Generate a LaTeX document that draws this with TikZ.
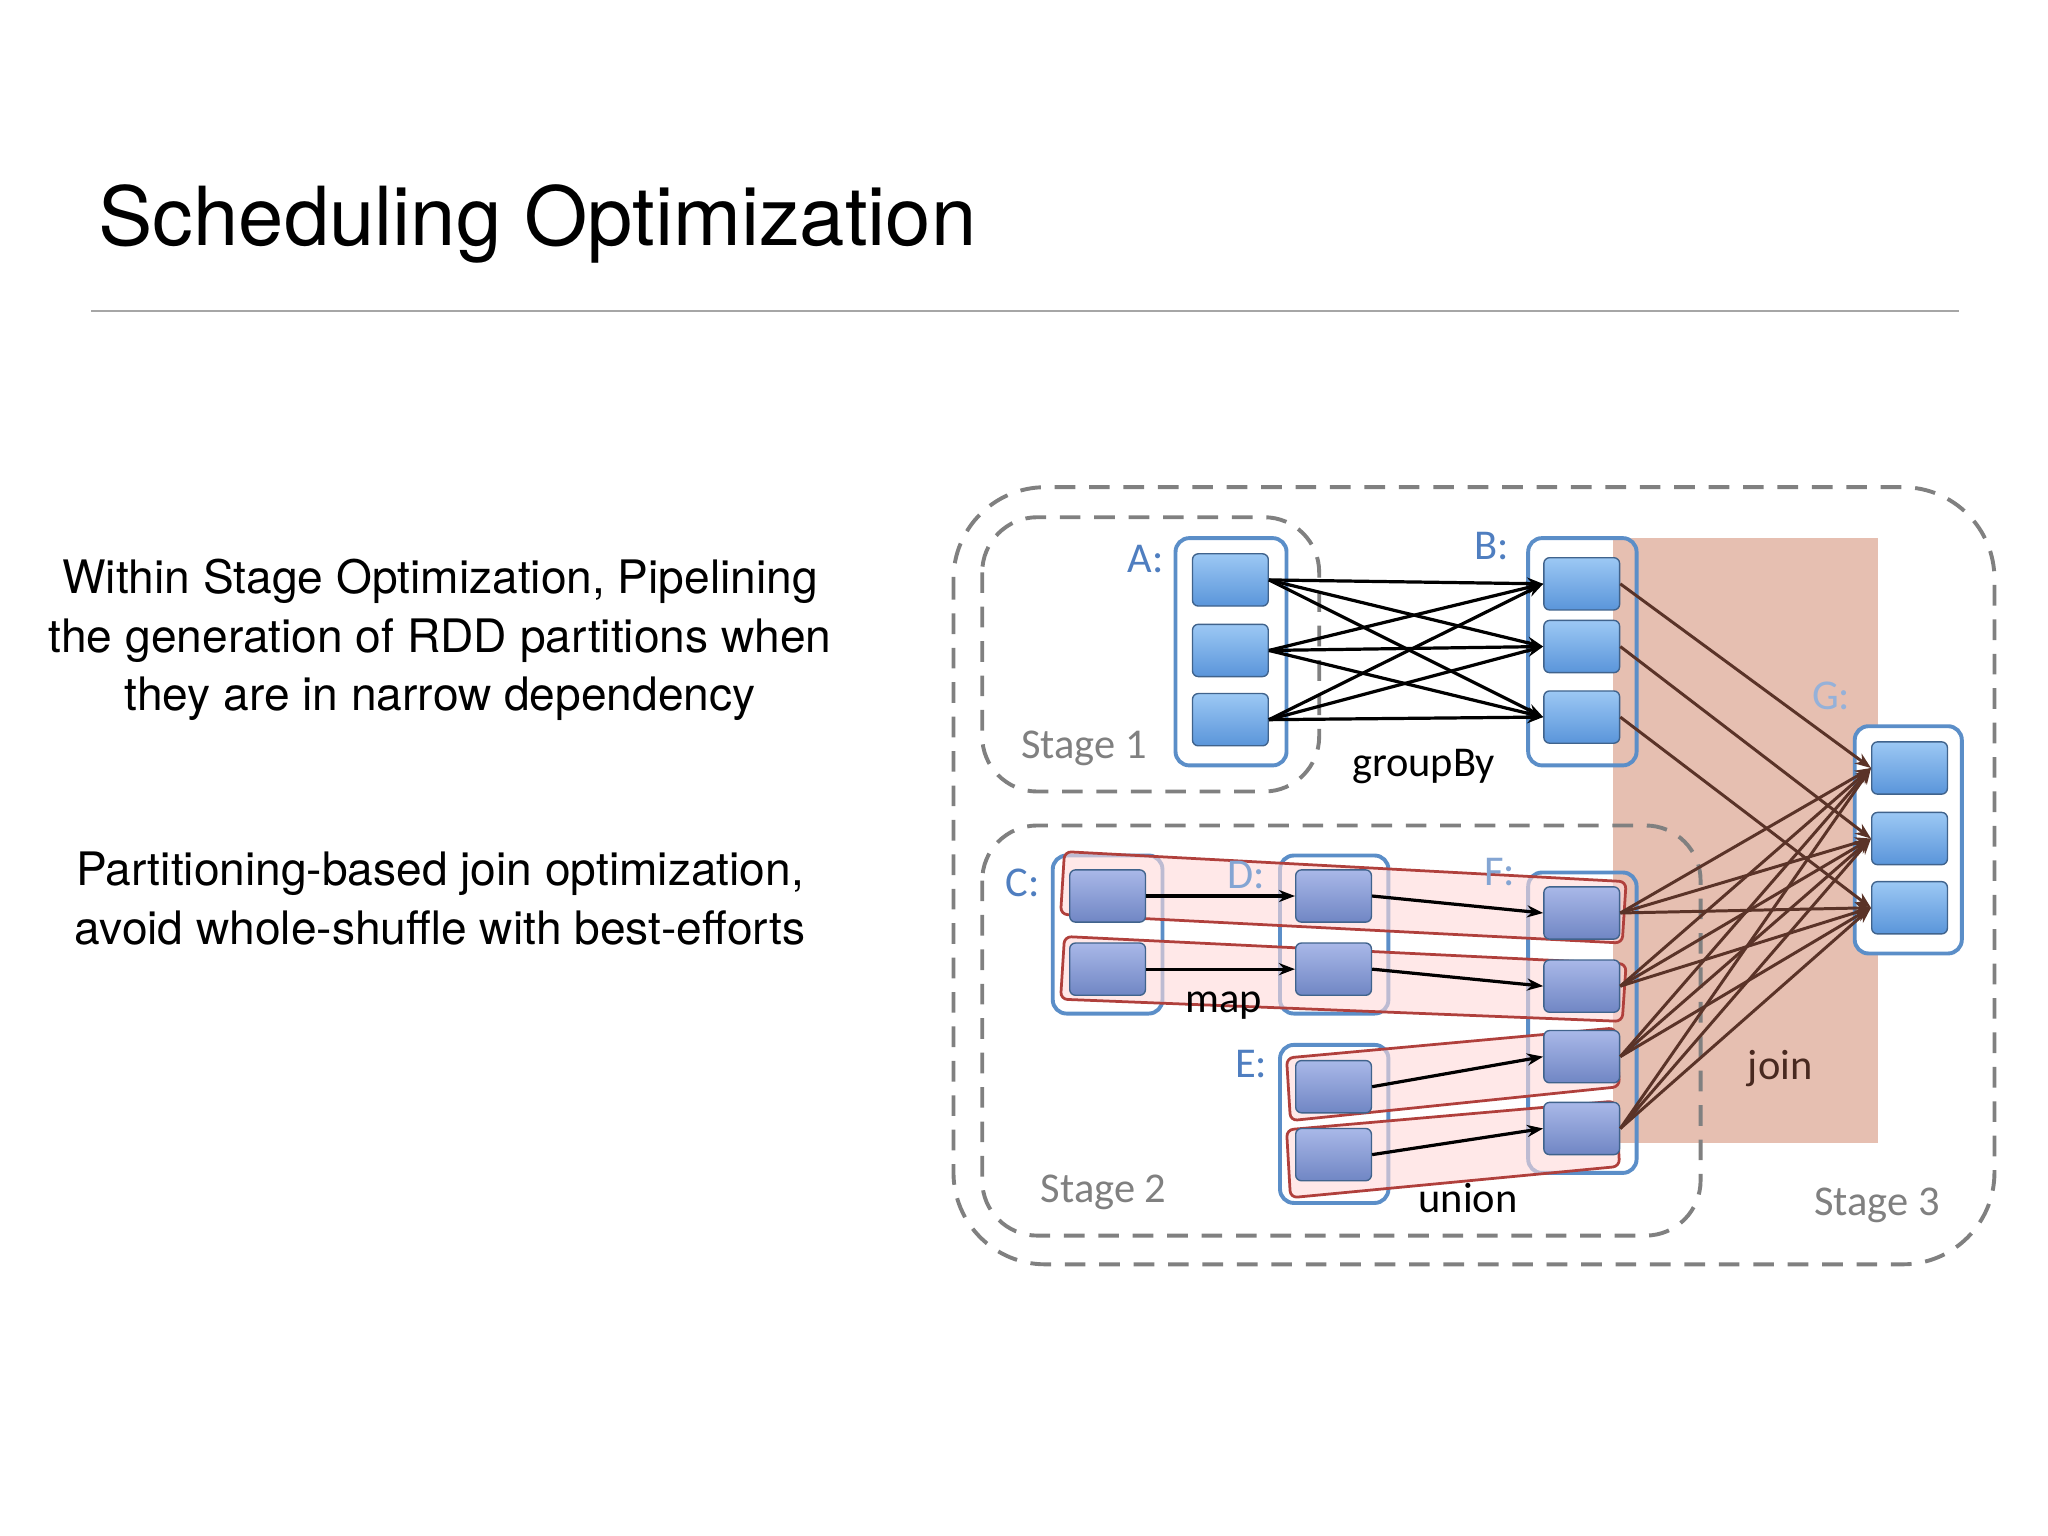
\documentclass[tikz,border=0pt]{standalone}
\usepackage{fontspec}
\setmainfont{TeX Gyre Heros}
\newfontfamily\carl{Carlito}
\usetikzlibrary{arrows.meta}
\definecolor{bl}{HTML}{5B8EC8}
\definecolor{lbl}{HTML}{4F7EC0}
\definecolor{br}{HTML}{5A3328}
\definecolor{rd}{HTML}{B0403C}
\definecolor{jn}{HTML}{E6BFB1}
\definecolor{pat}{HTML}{9CC8F4}
\definecolor{pab}{HTML}{5A95DA}
\definecolor{pbt}{HTML}{A9B8E8}
\definecolor{pbb}{HTML}{7086C4}
\tikzset{
 x=0.02cm,y=-0.02cm,
 cont/.style={draw=bl,line width=1.7pt,rounded corners=6pt,fill=white},
 pa/.style={draw=bl!70!black,line width=0.6pt,rounded corners=2.5pt,minimum width=58*0.02cm,minimum height=40*0.02cm,top color=pat,bottom color=pab,inner sep=0},
 pb/.style={pa,top color=pbt,bottom color=pbb},
 stg/.style={draw=gray,line width=1.7pt,dash pattern=on 9pt off 6pt,rounded corners=24pt},
 band/.style={draw=rd,line width=1.2pt,fill=red!15,fill opacity=0.6,rounded corners=3pt},
 ar/.style={-{Stealth[length=7pt]},line width=1.4pt,black},
 ab/.style={-{Stealth[length=7pt]},line width=1.3pt,br},
 lab/.style={font=\carl\fontsize{18.5}{22}\selectfont,inner sep=0},
}
\begin{document}
\begin{tikzpicture}
\useasboundingbox[fill=white] (0,0) rectangle (1568,1176);
\node[anchor=base west,inner sep=0,font=\fontsize{35.5}{42}\selectfont] (title) at (75,188) {Scheduling Optimization};
\draw[gray!70,line width=0.7pt] (70,238) coordinate(l1) -- (1500,238) coordinate(l2);
\node[align=center,font=\fontsize{20.1}{25.5}\selectfont,inner sep=0] (t1) at (337,490) {Within Stage Optimization, Pipelining\\the generation of RDD partitions when\\they are in narrow dependency};
\node[align=center,font=\fontsize{20.1}{25.5}\selectfont,inner sep=0] (t2) at (337,688) {Partitioning-based join optimization,\\avoid whole-shuffle with best-efforts};
% stages
\draw[stg,rounded corners=40pt] (730,373) rectangle (1527,968);
\fill[jn] (1235,412) rectangle (1438,875);
\draw[stg] (752,396) rectangle (1010,606);
\draw[stg] (752,632) rectangle (1302,946);
% containers
\draw[cont] (900,412) rectangle (985,586);
\draw[cont,fill=none] (1170,412) rectangle (1253,586);
\draw[cont] (1420,556) rectangle (1502,730);
\draw[cont] (806,655) rectangle (890,776);
\draw[cont] (980,655) rectangle (1063,776);
\draw[cont] (980,800) rectangle (1063,921);
\draw[cont,fill=none] (1170,668) rectangle (1253,898);
% bands
\draw[band] (815,652)--(1245,675)--(1242,722)--(812,700)--cycle;
\draw[band] (815,717)--(1245,738)--(1242,782)--(812,765)--cycle;
\draw[band] (985,810)--(1237,787)--(1240,832)--(988,858)--cycle;
\draw[band] (985,865)--(1237,843)--(1240,893)--(988,917)--cycle;
% partitions
\foreach \n/\y in {1/444,2/498,3/551}{\node[pa] (A\n) at (942,\y) {};}
\foreach \n/\y in {1/447,2/495,3/549}{\node[pa] (B\n) at (1211,\y) {};}
\foreach \n/\y in {1/588,2/642,3/695}{\node[pa] (G\n) at (1462,\y) {};}
\foreach \n/\y in {1/686,2/742}{\node[pb] (C\n) at (848,\y) {}; \node[pb] (D\n) at (1021,\y) {};}
\foreach \n/\y in {1/832,2/884}{\node[pb] (E\n) at (1021,\y) {};}
\foreach \n/\y in {1/699,2/755,3/809,4/864}{\node[pb] (F\n) at (1211,\y) {};}
% arrows
\foreach \i in {1,2,3}{\foreach \j in {1,2,3}{\draw[ar] (A\i.east) -- (B\j.west);}}
\foreach \i in {1,2}{\draw[ar] (C\i.east) -- (D\i.west); \draw[ar] (D\i.east) -- (F\i.west);}
\draw[ar] (E1.east) -- (F3.west);
\draw[ar] (E2.east) -- (F4.west);
\foreach \i in {1,2,3}{\draw[ab] (B\i.east) -- (G\i.west);}
\foreach \i in {1,2,3,4}{\foreach \j in {1,2,3}{\draw[ab] (F\i.east) -- (G\j.west);}}
% labels
\node[lab,text=lbl] (la) at (877,428) {A:};
\node[lab,text=lbl] (lb) at (1142,418) {B:};
\node[lab,text=lbl!60] (lg) at (1402,533) {G:};
\node[lab,text=lbl] (lc) at (783,676) {C:};
\node[lab,text=lbl!70] (ld) at (954,670) {D:};
\node[lab,text=lbl!70] (lf) at (1148,668) {F:};
\node[lab,text=lbl] (le) at (958,815) {E:};
\node[lab] (gb) at (1090,587) {groupBy};
\node[lab] (mp) at (937,770) {map};
\node[lab] (un) at (1124,917) {union};
\node[lab,text=br!80!black] (jn) at (1363,818) {join};
\node[lab,text=gray] (s1) at (830,573) {Stage 1};
\node[lab,text=gray] (s2) at (845,913) {Stage 2};
\node[lab,text=gray] (s3) at (1437,923) {Stage 3};
\end{tikzpicture}
\end{document}
